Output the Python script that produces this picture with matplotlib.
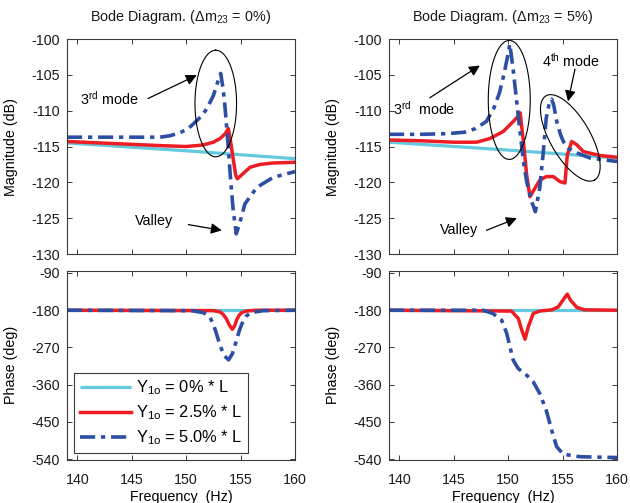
import numpy as np
import matplotlib
matplotlib.use('Agg')
import matplotlib.pyplot as plt

plt.rcParams['font.family'] = ['Liberation Sans', 'DejaVu Sans']
plt.rcParams['mathtext.fontset'] = 'custom'
plt.rcParams['mathtext.rm'] = 'Liberation Sans'
plt.rcParams['mathtext.it'] = 'Liberation Sans:italic'
plt.rcParams['mathtext.default'] = 'regular'
plt.rcParams['axes.unicode_minus'] = False

# ---------------- data ----------------
xticks = [140, 145, 150, 155, 160]
mag_ticks = [-130, -125, -120, -115, -110, -105, -100]
phase_ticks = [-540, -450, -360, -270, -180, -90]

labels = [r'Y$_{1o}$ = 0% * L', r'Y$_{1o}$ = 2.5% * L', r'Y$_{1o}$ = 5.0% * L']
titles = [r'Bode Diagram. ($\Delta$m$_{23}$ = 0%)', r'Bode Diagram. ($\Delta$m$_{23}$ = 5%)']

# left column (dm23 = 0%)
L_cyan_f = [139.05, 150.0, 160.0]
L_cyan_mag = [-114.5, -115.6, -116.7]
L_red_f = [139.05, 142, 145, 148, 150, 151.5, 152.5, 153.1, 153.6, 153.87, 154.0, 154.3, 154.55,
           154.7, 155.0, 155.87, 156.8, 158.0, 160.0]
L_red_mag = [-114.3, -114.5, -114.7, -114.9, -115.0, -114.8, -114.4, -113.9, -113.2, -112.5, -113.5,
             -116.5, -119.0, -119.5, -119.1, -117.9, -117.5, -117.3, -117.2]
L_blue_f = [139.05, 142, 145, 147.6, 148.5, 149.4, 150.2, 150.97, 151.5, 151.9, 152.5, 152.95, 153.17,
            153.4, 153.57, 153.87, 154.09, 154.33, 154.6, 154.9, 155.4, 156.5, 158.0, 160.0]
L_blue_mag = [-113.7, -113.7, -113.7, -113.7, -113.5, -113.1, -112.5, -111.4, -110.6, -109.7, -107.9,
              -105.75, -104.8, -107.0, -109.5, -115.1, -119.8, -124.0, -127.2, -125.8, -123.0, -120.7,
              -119.3, -118.5]

L_cyan_ph_f = [139.05, 160.0]
L_cyan_ph = [-180, -180]
L_red_ph_f = [139.05, 152.5, 153.1, 153.4, 153.7, 153.95, 154.24, 154.45, 154.64, 154.9, 155.1, 155.5,
              156.5, 160.0]
L_red_ph = [-180, -181, -184, -190, -201, -215, -226, -218, -203, -191, -186, -182, -180, -180]
L_blue_ph_f = [139.05, 150.5, 151.6, 152.2, 152.5, 152.8, 153.1, 153.5, 153.9, 154.25, 154.6, 154.85,
               155.1, 155.5, 155.9, 157.1, 160.0]
L_blue_ph = [-180, -181, -186, -198, -214, -238, -264, -290, -300, -285, -255, -232, -214, -195, -186,
             -181, -180]

# right column (dm23 = 5%)
R_cyan_f = [139.05, 150.0, 160.0]
R_cyan_mag = [-114.4, -115.5, -116.6]
R_red_f = [139.05, 142, 145, 147.1, 148.3, 149.55, 150.47, 150.9, 151.1, 151.4, 151.7, 152.0, 152.47,
           152.9, 153.5, 154.15, 154.76, 155.22, 155.43, 155.84, 156.3, 156.9, 158.4, 160.0]
R_red_mag = [-114.1, -114.2, -114.4, -114.4, -113.9, -112.9, -111.5, -110.8, -110.3, -114.3, -119.0,
             -122.0, -120.8, -119.7, -119.2, -119.2, -119.9, -120.1, -116.2, -114.3, -114.75, -115.7,
             -116.25, -116.5]
R_blue_f = [139.05, 142, 144.5, 146.0, 147.0, 148.0, 148.7, 149.2, 149.6, 149.9, 150.15, 150.47, 150.78,
            151.09, 151.4, 151.7, 152.16, 152.5, 152.9, 153.2, 153.5, 153.8, 154.0, 154.2, 154.46,
            154.8, 155.07, 155.5, 156.0, 157.5, 160.0]
R_blue_mag = [-113.3, -113.3, -113.2, -113.0, -112.5, -111.5, -109.6, -107.5, -105.0, -102.8, -100.7,
              -104.4, -108.7, -112.9, -117.1, -119.9, -122.7, -124.1, -120.8, -116.2, -111.0, -108.8,
              -108.4, -109.3, -111.5, -113.3, -114.3, -115.2, -115.7, -116.6, -117.1]

R_cyan_ph_f = [139.05, 160.0]
R_cyan_ph = [-180, -180]
R_red_ph_f = [139.05, 150.3, 150.93, 151.25, 151.55, 151.85, 152.3, 152.9, 154.0, 154.6, 155.13, 155.43,
              155.74, 156.3, 157.0, 160.0]
R_red_ph = [-180, -182, -200, -228, -250, -220, -188, -182, -179, -172, -152, -141, -156, -173, -179, -180]
R_blue_ph_f = [139.05, 147.7, 148.6, 149.4, 149.87, 150.17, 150.47, 150.93, 151.7, 152.3, 152.9, 153.5,
               154.0, 154.46, 155.07, 156.6, 160.0]
R_blue_ph = [-180, -180, -188, -204, -236, -269, -301, -321, -337, -353, -381, -422, -470, -510, -528,
             -534, -536]

# ---------------- styling ----------------
W, H = 630, 503
CYAN = '#62C9DE'
RED = '#EE1D23'
BLUE = '#2C4FA4'
SPINE = '#3a3a3a'
XLIM = (139.05, 160.0)
MAG_LIM = (-130, -100)
PH_LIM = (-540.7, -85.2)
FS = 10.3

fig = plt.figure(figsize=(W / 100, H / 100), dpi=100)


def rect(x0, y0, x1, y1):
    return [x0 / W, 1 - y1 / H, (x1 - x0) / W, (y1 - y0) / H]


def style(ax, yt, ylim, show_x):
    ax.set_xlim(*XLIM)
    ax.set_ylim(*ylim)
    ax.set_xticks(xticks)
    ax.set_yticks(yt)
    ax.tick_params(direction='in', length=3.5, width=0.7, colors=SPINE, labelcolor='#1a1a1a',
                   labelsize=FS, top=True, right=True, pad=5)
    ax.tick_params(axis='x', pad=9.5)
    if not show_x:
        ax.set_xticklabels([])
    for s in ax.spines.values():
        s.set_color(SPINE)
        s.set_linewidth(0.8)


def draw(ax, cf, cy, rf, ry, bf, by):
    ax.plot(cf, cy, color=CYAN, lw=2.3, solid_capstyle='butt', label=labels[0])
    ax.plot(rf, ry, color=RED, lw=2.5, label=labels[1])
    ax.plot(bf, by, color=BLUE, lw=2.6, linestyle=(0, (4.2, 1.6, 1.2, 1.6)), label=labels[2])


def ellipse(ax, fc, mc, a_px, b_px, ang_deg, pxHz, pxdB):
    t = np.linspace(0, 2 * np.pi, 200)
    th = np.deg2rad(ang_deg)
    dx = a_px * np.cos(th) * np.cos(t) - b_px * np.sin(th) * np.sin(t)
    dy = a_px * np.sin(th) * np.cos(t) + b_px * np.cos(th) * np.sin(t)
    ax.plot(fc + dx / pxHz, mc + dy / pxdB, color='black', lw=0.8)


def arrow(ax, tail, head):
    ax.annotate('', xy=head, xytext=tail,
                arrowprops=dict(arrowstyle='-|>', color='black', lw=0.9,
                                mutation_scale=16, shrinkA=0, shrinkB=0))


axL1 = fig.add_axes(rect(67, 39, 295, 254))
axL2 = fig.add_axes(rect(67, 271, 295, 459.5))
axR1 = fig.add_axes(rect(389, 39, 617, 254))
axR2 = fig.add_axes(rect(389, 271, 617, 459.5))

pxHz = 228 / (XLIM[1] - XLIM[0])
pxdB = 215 / 30.0

draw(axL1, L_cyan_f, L_cyan_mag, L_red_f, L_red_mag, L_blue_f, L_blue_mag)
draw(axR1, R_cyan_f, R_cyan_mag, R_red_f, R_red_mag, R_blue_f, R_blue_mag)
draw(axL2, L_cyan_ph_f, L_cyan_ph, L_red_ph_f, L_red_ph, L_blue_ph_f, L_blue_ph)
draw(axR2, R_cyan_ph_f, R_cyan_ph, R_red_ph_f, R_red_ph, R_blue_ph_f, R_blue_ph)

for ax in (axL1, axR1):
    style(ax, mag_ticks, MAG_LIM, False)
    ax.set_ylabel('Magnitude (dB)', fontsize=FS)
for ax in (axL2, axR2):
    style(ax, phase_ticks, PH_LIM, True)
    ax.set_ylabel('Phase (deg)', fontsize=FS)
    ax.set_xlabel('Frequency  (Hz)', fontsize=FS)
    ax.xaxis.set_label_coords(0.5, -0.163)
for ax in (axL1, axL2, axR1, axR2):
    ax.yaxis.set_label_coords(-0.214, 0.5)

for ax, t in zip((axL1, axR1), titles):
    ax.text(0.5, 1.0 + 18 / 215, t, transform=ax.transAxes, ha='center', va='baseline',
            fontsize=10.4, color='#1a1a1a')

# annotations - left
ellipse(axL1, 152.72, -109.0, 53.3, 20.8, 90, pxHz, pxdB)
axL1.text(140.25, -108.3, r'3$^{\mathrm{rd}}$ mode', fontsize=FS, va='center', ha='left')
arrow(axL1, (146.5, -108.3), (150.97, -105.05))
axL1.text(145.3, -125.4, 'Valley', fontsize=FS, va='center', ha='left')
arrow(axL1, (150.2, -125.9), (153.27, -126.7))

# annotations - right
ellipse(axR1, 150.1, -108.5, 59.5, 21.0, 90, pxHz, pxdB)
ellipse(axR1, 155.71, -113.8, 48.6, 20.0, -60, pxHz, pxdB)
axR1.text(139.45, -109.8, r'3$^{\mathrm{rd}}$  mode', fontsize=FS, va='center', ha='left')
arrow(axR1, (142.8, -108.2), (147.4, -103.7))
axR1.text(153.08, -103.05, r'4$^{\mathrm{th}}$ mode', fontsize=FS, va='center', ha='left')
arrow(axR1, (156.14, -104.2), (155.5, -108.7))
axR1.text(143.73, -126.7, 'Valley', fontsize=FS, va='center', ha='left')
arrow(axR1, (148.0, -126.7), (150.8, -125.0))

leg = axL2.legend(loc='lower left', bbox_to_anchor=(7 / 228, 6.8 / 188.5), borderaxespad=0,
                  fontsize=11.8, handlelength=3.15, handletextpad=0.3, borderpad=0.35,
                  labelspacing=0.38, fancybox=False, framealpha=1, edgecolor=SPINE)
leg.get_frame().set_linewidth(0.8)

fig.savefig('out.png', dpi=100, facecolor='white')
